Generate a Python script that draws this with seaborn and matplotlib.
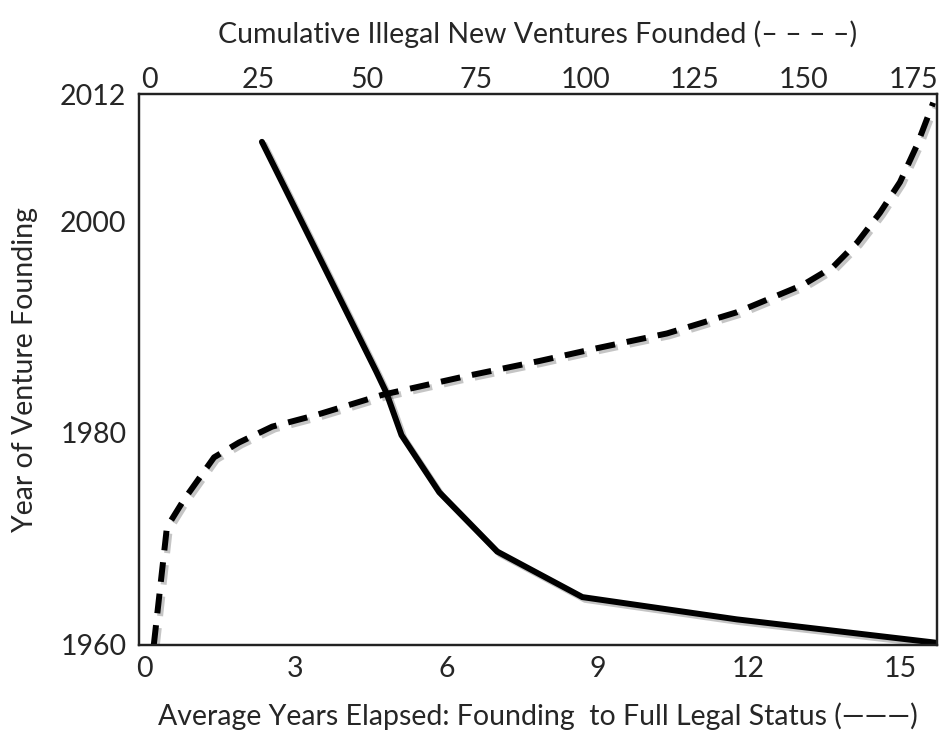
"""
Founding year vs. years to full legal status, with cumulative illegal ventures
"""

import matplotlib
matplotlib.use("Agg")
import matplotlib.pyplot as plt
import matplotlib.patheffects as pe
import pandas as pd
import seaborn as sns

# solid line: average years elapsed (bottom axis) by founding year
years_elapsed = [2.34, 4.61, 4.81, 5.11, 5.86, 7.01, 8.70, 11.76, 15.70]
elapsed_founding_year = [2007.5, 1985.8, 1983.8, 1979.8, 1974.4, 1968.8, 1964.5, 1962.4, 1960.2]

# dashed line: cumulative illegal new ventures (top axis) by founding year
cumulative_ventures = [1.1, 4.1, 8.0, 14.9, 20.6, 28.2, 38.3, 53.4, 71.8, 89.4,
                       102.5, 118.6, 134.6, 149.8, 156.7, 162.2, 167.4, 172.0, 175.9, 179.6]
cumulative_founding_year = [1960.0, 1971.1, 1973.7, 1977.7, 1979.1, 1980.6, 1981.7, 1983.6,
                            1985.3, 1986.8, 1988.0, 1989.4, 1991.4, 1994.0, 1995.7, 1998.0,
                            2000.8, 2003.7, 2007.2, 2011.2]

bottom_ticks = [0, 3, 6, 9, 12, 15]
top_ticks = [0, 25, 50, 75, 100, 125, 150, 175]
year_ticks = [1960, 1980, 2000, 2012]

sns.set_theme(style="white")
plt.rcParams["font.family"] = ["Lato", "DejaVu Sans"]

elapsed = pd.DataFrame({"elapsed": years_elapsed, "year": elapsed_founding_year})
cumulative = pd.DataFrame({"count": cumulative_ventures, "year": cumulative_founding_year})

fig = plt.figure(figsize=(9.39, 7.36), dpi=100)
ax = fig.add_axes([0.148, 0.124, 0.850, 0.748])
shadow = [pe.SimpleLineShadow(offset=(2, -2), alpha=0.25), pe.Normal()]

sns.lineplot(data=elapsed, x="elapsed", y="year", ax=ax, color="black",
             linewidth=4.3, estimator=None, solid_joinstyle="miter",
             path_effects=shadow)

ax2 = ax.twiny()
sns.lineplot(data=cumulative, x="count", y="year", ax=ax2, color="black",
             linewidth=4.3, estimator=None, linestyle=(0, (3.3, 2.0)),
             dash_capstyle="butt", path_effects=shadow)

ax.set_xlim(-0.1, 15.74)
ax2.set_xlim(-2.3, 180.5)
ax.set_ylim(1960, 2012)

ax.set_xticks(bottom_ticks)
ax2.set_xticks(top_ticks)
ax.set_yticks(year_ticks)
ax.tick_params(axis="x", length=0, labelsize=20.5, pad=8)
ax.tick_params(axis="y", length=0, labelsize=20.5, pad=9)
ax2.tick_params(axis="x", length=0, labelsize=20.5, pad=1)

ax.set_xlabel("Average Years Elapsed: Founding  to Full Legal Status (\u2014\u2014\u2014)",
              fontsize=20.5, labelpad=15)
ax.set_ylabel("Year of Venture Founding", fontsize=20.5, labelpad=16)
ax2.set_xlabel("Cumulative Illegal New Ventures Founded (\u2013 \u2013 \u2013 \u2013)",
               fontsize=20.5, labelpad=17)

for a in (ax, ax2):
    for spine in a.spines.values():
        spine.set_color("#222222")
        spine.set_linewidth(1.6)

fig.savefig("out.png", dpi=100)
